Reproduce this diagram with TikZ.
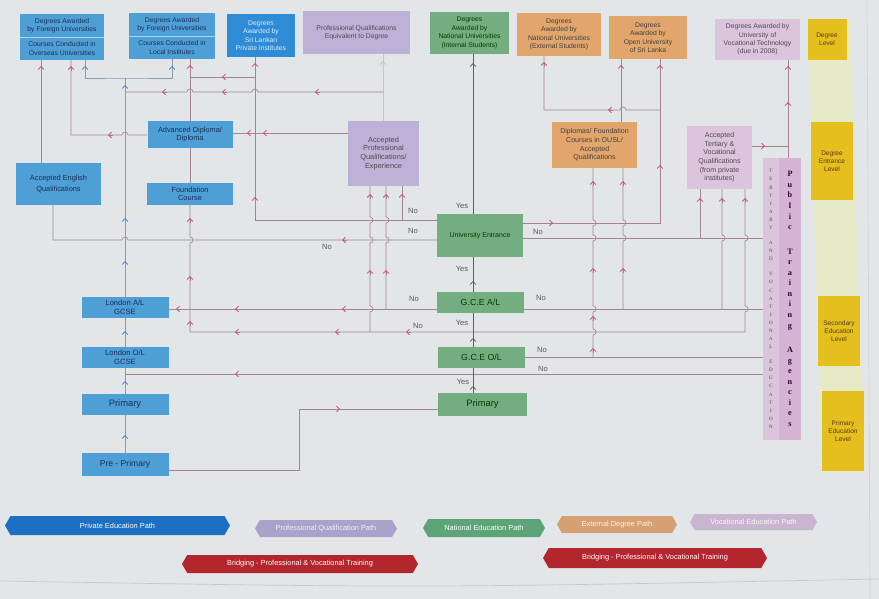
\documentclass[tikz,border=0pt]{standalone}
\usepackage{fontspec}
\setmainfont{Liberation Sans}
\newfontfamily\barfont{Liberation Serif}
\usetikzlibrary{arrows.meta,shapes.symbols}

\definecolor{bgc}{HTML}{E2E6E9}
\definecolor{pvtc}{HTML}{4E9FD6}
\definecolor{pvtd}{HTML}{2E8BD6}
\definecolor{navyt}{HTML}{1C2F55}
\definecolor{lavc}{HTML}{BDB1D7}
\definecolor{grnc}{HTML}{74AD7F}
\definecolor{orgc}{HTML}{E2A66C}
\definecolor{pnkc}{HTML}{DDC4DD}
\definecolor{pnkd}{HTML}{D5B3D4}
\definecolor{ylwc}{HTML}{E5BF1E}
\definecolor{palec}{HTML}{E6EAC6}
\definecolor{lnc}{HTML}{A3848F}
\definecolor{redc}{HTML}{C9485F}
\definecolor{bluc}{HTML}{3F7FBF}
\definecolor{blnc}{HTML}{8D9AA8}
\definecolor{legblue}{HTML}{1D6FC2}
\definecolor{leglav}{HTML}{A9A2CB}
\definecolor{leggrn}{HTML}{5DA479}
\definecolor{legorg}{HTML}{D7A072}
\definecolor{legpnk}{HTML}{C9B5CF}
\definecolor{legred}{HTML}{B3262D}

\tikzset{
  sz/.style 2 args={minimum width=#1*0.03cm, minimum height=#2*0.03cm},
  bx/.style={inner sep=1pt, align=center, font=\fontsize{5.8}{7.2}\selectfont},
  pvt/.style={bx, fill=pvtc, text=navyt},
  prf/.style={bx, fill=lavc, text=black!70},
  nat/.style={bx, fill=grnc, text=black!75!green},
  ext/.style={bx, fill=orgc, text=black!75},
  voc/.style={bx, fill=pnkc, text=black!70},
  lvl/.style={bx, fill=ylwc, text=black!55!brown, font=\fontsize{5.6}{6.8}\selectfont},
  ln/.style={draw=lnc, line width=0.55pt},
  bln/.style={draw=blnc, line width=0.55pt},
  dln/.style={draw=gray!75!black, line width=0.55pt},
  chv/.style={draw=lnc, line width=0.6pt, -{Straight Barb[length=2.6pt,width=5pt,color=redc]}},
  bchv/.style={draw=blnc, line width=0.6pt, -{Straight Barb[length=2.6pt,width=5pt,color=bluc]}},
  dchv/.style={draw=gray!75!black, line width=0.6pt, -{Straight Barb[length=2.6pt,width=5pt,color=gray!70!black]}},
  lbl/.style={font=\fontsize{6.5}{7}\selectfont, text=black!65, inner sep=0pt},
  leg/.style={signal, signal to=west and east, signal pointer angle=120, inner sep=1pt, text=white, font=\fontsize{6.3}{7}\selectfont},
}

\begin{document}
\begin{tikzpicture}[x=0.03cm, y=-0.03cm]
\fill[bgc] (0,0) rectangle (879,599);
\useasboundingbox (0,0) rectangle (879,599);
\draw[gray!45, line width=0.6pt] (0,581) .. controls (420,588) .. (879,579);
\draw[gray!35, line width=0.6pt] (867,0) -- (870,599);

% level column
\fill[palec] (808,19) -- (850,19) -- (864,473) -- (822,473) -- cycle;
\node[lvl, sz={39}{41}] (l1) at (827,39.5) {Degree\\Level};
\node[lvl, sz={42}{78}] (l2) at (832,161) {Degree\\Entrance\\Level};
\node[lvl, sz={42}{70}] (l3) at (839,331) {Secondary\\Education\\Level};
\node[lvl, sz={42}{80}] (l4) at (843,431) {Primary\\Education\\Level};

% degree row
\node[pvt, sz={84}{23}] (a1t) at (62,25.5) {Degrees Awarded\\by Foreign Universities};
\node[pvt, sz={84}{23}] (a1) at (62,48.5) {Courses Conducted in\\Overseas Universities};
\node[pvt, sz={86}{23}] (a2t) at (172,24.5) {Degrees Awarded\\by Foreign Universities};
\node[pvt, sz={86}{23}] (a2) at (172,47.5) {Courses Conducted in\\Local Institutes};
\draw[white!55!pvtc, line width=0.5pt] (a1t.south west) -- (a1t.south east);
\draw[white!55!pvtc, line width=0.5pt] (a2t.south west) -- (a2t.south east);
\node[pvt, fill=pvtd, text=white!85!pvtd, sz={68}{43}] (a3) at (261,35.5) {Degrees\\Awarded by\\Sri Lankan\\Private Institutes};
\node[prf, sz={107}{43}] (p1) at (356.5,32.5) {Professional Qualifications\\Equivalent to Degree};
\node[nat, sz={79}{42}] (n1) at (469.5,33) {Degrees\\Awarded by\\National Universities\\(Internal Students)};
\node[ext, sz={84}{43}] (e1) at (559,34.5) {Degrees\\Awarded by\\National Universities\\(External Students)};
\node[ext, sz={78}{43}] (e2) at (648,37.5) {Degrees\\Awarded by\\Open University\\of Sri Lanka};
\node[voc, sz={85}{41}] (v1) at (757.5,39.5) {Degrees Awarded by\\University of\\Vocational Technology\\(due in 2008)};

% entrance row
\node[pvt, font=\fontsize{6.3}{7.4}\selectfont, sz={85}{27}] (adv) at (190,134.5) {Advanced Diploma/\\Diploma};
\node[prf, font=\fontsize{6.3}{7.6}\selectfont, sz={71}{65}] (ap) at (383.5,153.5) {Accepted\\Professional\\Qualifications/\\Experience};
\node[pvt, font=\fontsize{6.3}{9}\selectfont, sz={85}{42}] (eng) at (58.5,184) {Accepted English\\Qualifications};
\node[pvt, font=\fontsize{6.3}{7.4}\selectfont, sz={86}{22}] (fnd) at (190,194) {Foundation\\Course};
\node[ext, font=\fontsize{6}{7.4}\selectfont, sz={85}{46}] (ousl) at (594.5,145) {Diplomas/ Foundation\\Courses in OUSL/\\Accepted\\Qualifications};
\node[voc, font=\fontsize{6}{7.4}\selectfont, sz={65}{63}] (tert) at (719.5,157.5) {Accepted\\Tertiary \&\\Vocational\\Qualifications\\(from private\\institutes)};

% training bars
\node[voc, sz={16}{282}, font=\barfont\fontsize{4.3}{6.9}\selectfont, text=black!70] (tve) at (771,299)
  {T\\E\\R\\T\\I\\A\\R\\Y\\[6pt]A\\N\\D\\[6pt]V\\O\\C\\A\\T\\I\\O\\N\\A\\L\\[6pt]E\\D\\U\\C\\A\\T\\I\\O\\N};
\node[voc, fill=pnkd, sz={22}{282}, font=\barfont\bfseries\fontsize{7}{9}\selectfont, text=black!55!violet] (pta) at (790,299)
  {P\\u\\b\\l\\i\\c\\[12pt]T\\r\\a\\i\\n\\i\\n\\g\\[12pt]A\\g\\e\\n\\c\\i\\e\\s};

% national column
\node[nat, font=\fontsize{6}{7}\selectfont, sz={86}{43}] (ue) at (480,235.5) {University Entrance};
\node[nat, font=\fontsize{7.5}{8}\selectfont, sz={87}{21}] (al) at (480.5,302.5) {G.C.E A/L};
\node[nat, font=\fontsize{7.5}{8}\selectfont, sz={87}{21}] (ol) at (481.5,357.5) {G.C.E O/L};
\node[nat, font=\fontsize{8}{9}\selectfont, sz={89}{23}] (pg) at (482.5,404.5) {Primary};

% london column
\node[pvt, font=\fontsize{6.5}{7.4}\selectfont, sz={87}{21}] (lal) at (125,307.5) {London A/L\\GCSE};
\node[pvt, font=\fontsize{6.5}{7.4}\selectfont, sz={87}{21}] (lol) at (125,357.5) {London O/L\\GCSE};
\node[pvt, font=\fontsize{8}{9}\selectfont, sz={87}{21}] (lpr) at (125,404.5) {Primary};
\node[pvt, font=\fontsize{7.3}{8}\selectfont, sz={87}{23}] (pre) at (125,464.5) {Pre - Primary};

% junctions
\coordinate (jA) at (402,220);
\coordinate (jB) at (386,309);
\coordinate (jC) at (370,332);
\coordinate (jD) at (190,332);
\coordinate (jE) at (383,92);
\coordinate (jF) at (255,77);
\coordinate (jG) at (125,78);
\coordinate (jH) at (125,374);
\coordinate (jI) at (660,110);
\coordinate (jJ) at (593,357);
\coordinate (jK) at (623,309);
\coordinate (jL) at (722,309);
\coordinate (jM) at (700,238);
\coordinate (jN) at (745,332);
\coordinate (jO) at (788,146);

% blue path
\draw[bln] (pre.north) -- (lpr.south);
\draw[bln] (lpr.north) -- (lol.south);
\draw[bln] (lol.north) -- (lal.south);
\draw[bln] (lal.north) -- (jG);
\draw[bln] (a1.south -| 85,0) |- (jG) -| (a2.south -| 172,0);

% left side
\draw[ln] (eng.north -| 41,0) -- (a1.south -| 41,0);
\draw[ln] (ue.west |- 0,240) -- (128,240) arc (0:-180:3) -- (53,240) -- (eng.south -| 53,0);
\draw[ln] (ue.west |- 0,220) -| (a3.south -| jF);
\draw[ln] (jF) -- (adv.north |- jF);
\draw[ln] (jA) -- (ap.south -| jA);
\draw[ln] (jB) -- (386,243) arc (90:-90:3) -- (386,223) arc (90:-90:3) -- (ap.south -| jB);
\draw[ln] (jC) -- (370,312) arc (90:-90:3) -- (370,243) arc (90:-90:3) -- (370,223) arc (90:-90:3) -- (ap.south -| jC);
\draw[ln, draw=gray!45] (ap.north) -- (p1.south -| ap.north);
\draw[ln] (jE) -- (258,92) arc (0:-180:3) -- (193,92) arc (0:-180:3) -- (jG |- jE);
\draw[ln] (ap.west |- 0,133) -- (adv.east |- 0,133);
\draw[ln] (adv.west |- 0,135) -- (128,135) arc (0:-180:3) -- (71,135) -- (a1.south -| 71,0);
\draw[ln] (jN) -- (jD) -- (190,243) arc (90:-90:3) -- (fnd.south);
\draw[ln] (fnd.north) -- (adv.south);
\draw[ln] (adv.north) -- (a2.south -| adv.north);
\draw[ln] (al.west |- 0,309) -- (lal.east |- 0,309);
\draw[ln] (tve.west |- jH) -- (jH);
\draw[ln] (pre.east |- 0,470) -| (299,409) -- (pg.west |- 0,409);

% national column
\draw[dln] (pg.north -| 473,0) -- (ol.south -| 473,0);
\draw[dln] (ol.north -| 473,0) -- (al.south -| 473,0);
\draw[dln] (al.north -| 473,0) -- (ue.south -| 473,0);
\draw[dln] (ue.north -| 473,0) -- (n1.south -| 473,0);

% right side
\draw[ln] (ue.east |- 0,223) -| (e2.south -| jI);
\draw[ln] (jI) -- (626,110) arc (0:-180:3) -- (544,110) -- (e1.south -| 544,0);
\draw[ln] (ousl.north -| 621,0) -- (e2.south -| 621,0);
\draw[ln] (ue.east |- jM) -- (tve.west |- jM);
\draw[ln] (jM) -- (tert.south -| jM);
\draw[ln] (al.east |- jK) -- (tve.west |- jK);
\draw[ln] (jK) -- (623,241) arc (90:-90:3) -- (623,226) arc (90:-90:3) -- (ousl.south -| jK);
\draw[ln] (jL) -- (722,241) arc (90:-90:3) -- (tert.south -| jL);
\draw[ln] (jN) -- (745,312) arc (90:-90:3) -- (745,241) arc (90:-90:3) -- (tert.south -| jN);
\draw[ln] (ol.east |- jJ) -- (tve.west |- jJ);
\draw[ln] (jJ) -- (593,335) arc (90:-90:3) -- (593,312) arc (90:-90:3) -- (593,241) arc (90:-90:3) -- (593,226) arc (90:-90:3) -- (ousl.south -| jJ);
\draw[ln] (tert.east |- jO) -- (jO);
\draw[ln] (pta.north -| jO) -- (v1.south -| jO);

% arrow heads
\foreach \x/\y in {222/77, 315/92, 222/92, 162/92, 263/133, 247/133, 108/135, 342/240, 176/309, 235/309, 342/309, 406/332, 335/332, 235/332, 235/374, 608/110}
  \draw[chv] (\x+5,\y) -- (\x,\y);
\foreach \x/\y in {553/223, 765/146, 340/409}
  \draw[chv] (\x-5,\y) -- (\x,\y);
\foreach \x/\y in {41/66, 71/66, 190/65, 255/63, 255/197, 370/194, 386/194, 402/194, 370/270, 386/270, 190/218, 190/276, 190/321, 544/62, 621/65, 660/65, 660/165, 593/181, 623/181, 593/268, 593/316, 593/348, 623/268, 700/198, 722/198, 745/198, 788/66, 788/102}
  \draw[chv] (\x,\y+5) -- (\x,\y);
\foreach \x/\y in {85/66, 172/66, 125/85, 125/218, 125/261, 125/331, 125/381, 125/435}
  \draw[bchv] (\x,\y+5) -- (\x,\y);
\foreach \x/\y in {473/63, 473/281, 473/338, 473/386}
  \draw[dchv] (\x,\y+5) -- (\x,\y);
\draw[dchv, draw=gray!45, -{Straight Barb[length=2.6pt,width=5pt,color=gray!50]}] (383,66) -- (383,61);

% labels
\node[lbl] (no1) at (413,211) {No};
\node[lbl] (no2) at (413,231) {No};
\node[lbl] (no3) at (327,247) {No};
\node[lbl] (no4) at (538,232) {No};
\node[lbl] (no5) at (414,299) {No};
\node[lbl] (no6) at (541,298) {No};
\node[lbl] (no7) at (418,326) {No};
\node[lbl] (no8) at (542,350) {No};
\node[lbl] (no9) at (543,369) {No};
\node[lbl] (yes1) at (462,206) {Yes};
\node[lbl] (yes2) at (462,269) {Yes};
\node[lbl] (yes3) at (462,323) {Yes};
\node[lbl] (yes4) at (463,382) {Yes};

% legend
\node[leg, fill=legblue, sz={225}{19}] (lg1) at (117.5,525.5) {Private Education Path};
\node[leg, fill=leglav, text=white!85!leglav, sz={142}{17}] (lg2) at (326,528.5) {Professional Qualification Path};
\node[leg, fill=leggrn, sz={122}{18}] (lg3) at (484,528) {National Education Path};
\node[leg, fill=legorg, text=white!88!legorg, sz={120}{17}] (lg4) at (617,524.5) {External Degree Path};
\node[leg, fill=legpnk, text=white!88!legpnk, sz={127}{16}] (lg5) at (753.5,522) {Vocational Education Path};
\node[leg, fill=legred, sz={236}{18}] (lg6) at (300,564) {Bridging - Professional \& Vocational Training};
\node[leg, fill=legred, sz={224}{20}] (lg7) at (655,558) {Bridging - Professional \& Vocational Training};
\end{tikzpicture}
\end{document}
